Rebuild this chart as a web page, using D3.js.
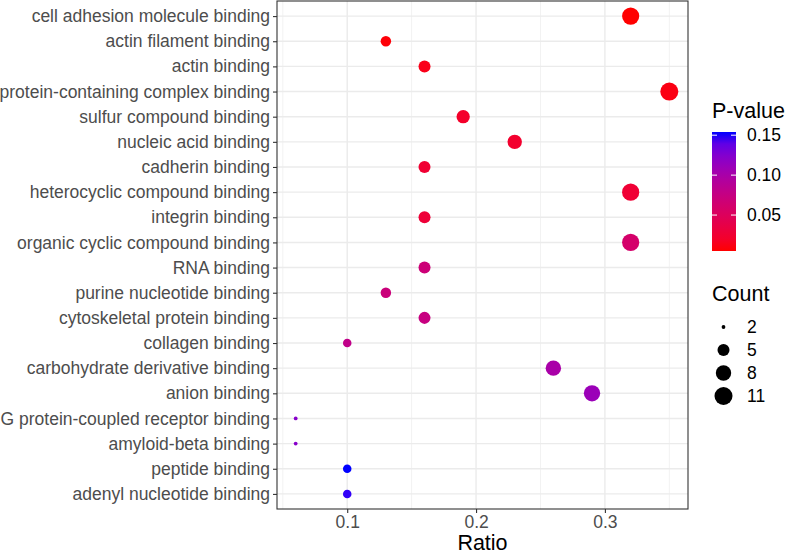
<!DOCTYPE html>
<html>
<head>
<meta charset="utf-8">
<script src="https://cdn.jsdelivr.net/npm/d3@7"></script>
<style>
  body { margin: 0; background: #fff; }
  text { font-family: "Liberation Sans", Arial, sans-serif; }
</style>
</head>
<body>
<div id="container"></div>
<script>
// data (top to bottom)
const terms = [
  "cell adhesion molecule binding", "actin filament binding", "actin binding",
  "protein-containing complex binding", "sulfur compound binding", "nucleic acid binding",
  "cadherin binding", "heterocyclic compound binding", "integrin binding",
  "organic cyclic compound binding", "RNA binding", "purine nucleotide binding",
  "cytoskeletal protein binding", "collagen binding", "carbohydrate derivative binding",
  "anion binding", "G protein-coupled receptor binding", "amyloid-beta binding",
  "peptide binding", "adenyl nucleotide binding"
];
const ratios = [0.32, 0.13, 0.16, 0.35, 0.19, 0.23, 0.16, 0.32, 0.16, 0.32,
                0.16, 0.13, 0.16, 0.10, 0.26, 0.29, 0.06, 0.06, 0.10, 0.10];
const counts = [10, 4, 5, 11, 6, 7, 5, 10, 5, 10, 5, 4, 5, 3, 8, 9, 2, 2, 3, 3];
const pvalues = [0.005, 0.007, 0.012, 0.010, 0.020, 0.022, 0.025, 0.026, 0.028, 0.060,
                 0.068, 0.070, 0.074, 0.080, 0.100, 0.110, 0.122, 0.122, 0.154, 0.150];
const countBreaks = [2, 5, 8, 11];
const pBreaks = [0.05, 0.10, 0.15];
const xTicks = [0.1, 0.2, 0.3];
const xMinor = [0.05, 0.15, 0.25, 0.35];

const width = 787, height = 554;
const panel = { left: 277, right: 688, top: 1, bottom: 509 };
const labelSize = "17.5px", titleSize = "21.5px";

const svg = d3.select("#container").append("svg")
  .attr("width", width).attr("height", height);

const xExt = d3.extent(ratios), xPad = (xExt[1] - xExt[0]) * 0.05;
const x = d3.scaleLinear()
  .domain([xExt[0] - xPad, xExt[1] + xPad])
  .range([panel.left, panel.right]);

const y = d3.scalePoint().domain(terms)
  .range([panel.top, panel.bottom]).padding(0.6);

const pExt = d3.extent(pvalues);
const color = d3.scaleSequential()
  .domain(pExt)
  .interpolator(d3.interpolateLab("red", "blue"));

// ggplot area size scale, range 1..6 -> diameter in px
const cExt = d3.extent(counts);
const sizeScale = d3.scaleSqrt().domain([0, 1]).range([1, 6]);
const diam = c => sizeScale((c - cExt[0]) / (cExt[1] - cExt[0])) * 2.845 + 0.95;

// grid
const grid = svg.append("g");
grid.selectAll(".minor").data(xMinor).join("line")
  .attr("x1", d => x(d)).attr("x2", d => x(d))
  .attr("y1", panel.top).attr("y2", panel.bottom)
  .attr("stroke", "#F2F2F2").attr("stroke-width", 1);
grid.selectAll(".majx").data(xTicks).join("line")
  .attr("x1", d => x(d)).attr("x2", d => x(d))
  .attr("y1", panel.top).attr("y2", panel.bottom)
  .attr("stroke", "#EBEBEB").attr("stroke-width", 1.4);
grid.selectAll(".majy").data(terms).join("line")
  .attr("x1", panel.left).attr("x2", panel.right)
  .attr("y1", d => y(d)).attr("y2", d => y(d))
  .attr("stroke", "#EBEBEB").attr("stroke-width", 1.4);

// points
svg.append("g").selectAll("circle")
  .data(terms.map((t, i) => ({ t, r: ratios[i], c: counts[i], p: pvalues[i] })))
  .join("circle")
  .attr("cx", d => x(d.r))
  .attr("cy", d => y(d.t))
  .attr("r", d => diam(d.c) / 2)
  .attr("fill", d => color(d.p));

// panel border
svg.append("rect")
  .attr("x", panel.left).attr("y", panel.top)
  .attr("width", panel.right - panel.left).attr("height", panel.bottom - panel.top)
  .attr("fill", "none").attr("stroke", "#333333").attr("stroke-width", 1.1);

// axes
const xAxis = svg.append("g")
  .attr("transform", `translate(0,${panel.bottom})`)
  .call(d3.axisBottom(x).tickValues(xTicks).tickSize(4).tickPadding(3).tickFormat(d3.format(".1f")));
const yAxis = svg.append("g")
  .attr("transform", `translate(${panel.left},0)`)
  .call(d3.axisLeft(y).tickSize(4).tickPadding(3));
[xAxis, yAxis].forEach(a => {
  a.select(".domain").remove();
  a.selectAll(".tick line").attr("stroke", "#333333").attr("stroke-width", 1.1);
  a.selectAll(".tick text").attr("fill", "#4D4D4D")
    .style("font-size", labelSize).style("font-family", "Liberation Sans, Arial, sans-serif");
});

svg.append("text")
  .attr("x", (panel.left + panel.right) / 2).attr("y", 550)
  .attr("text-anchor", "middle").style("font-size", titleSize)
  .text("Ratio");

// colour legend
const bar = { x: 712, w: 24, top: 132, bottom: 251 };
const pY = d3.scaleLinear().domain(pExt).range([bar.bottom, bar.top]);
svg.append("text").attr("x", 712).attr("y", 118)
  .style("font-size", titleSize).text("P-value");
const defs = svg.append("defs");
const grad = defs.append("linearGradient").attr("id", "pgrad")
  .attr("x1", 0).attr("x2", 0).attr("y1", 1).attr("y2", 0);
d3.range(0, 1.0001, 0.1).forEach(t => {
  grad.append("stop").attr("offset", t)
    .attr("stop-color", color(pExt[0] + t * (pExt[1] - pExt[0])));
});
svg.append("rect").attr("x", bar.x).attr("y", bar.top)
  .attr("width", bar.w).attr("height", bar.bottom - bar.top)
  .attr("fill", "url(#pgrad)");
const pTicks = svg.append("g").selectAll("g").data(pBreaks).join("g");
pTicks.append("line").attr("x1", bar.x).attr("x2", bar.x + 5)
  .attr("y1", d => pY(d)).attr("y2", d => pY(d)).attr("stroke", "#fff");
pTicks.append("line").attr("x1", bar.x + bar.w - 5).attr("x2", bar.x + bar.w)
  .attr("y1", d => pY(d)).attr("y2", d => pY(d)).attr("stroke", "#fff");
pTicks.append("text").attr("x", 747).attr("y", d => pY(d) + 6)
  .style("font-size", labelSize).text(d => d.toFixed(2));

// size legend
svg.append("text").attr("x", 712).attr("y", 301)
  .style("font-size", titleSize).text("Count");
const keys = svg.append("g").selectAll("g").data(countBreaks).join("g")
  .attr("transform", (d, i) => `translate(723.5,${327 + i * 23})`);
keys.append("circle").attr("r", d => diam(d) / 2).attr("fill", "#000");
keys.append("text").attr("x", 23.5).attr("y", 6)
  .style("font-size", labelSize).text(d => d);
</script>
</body>
</html>
